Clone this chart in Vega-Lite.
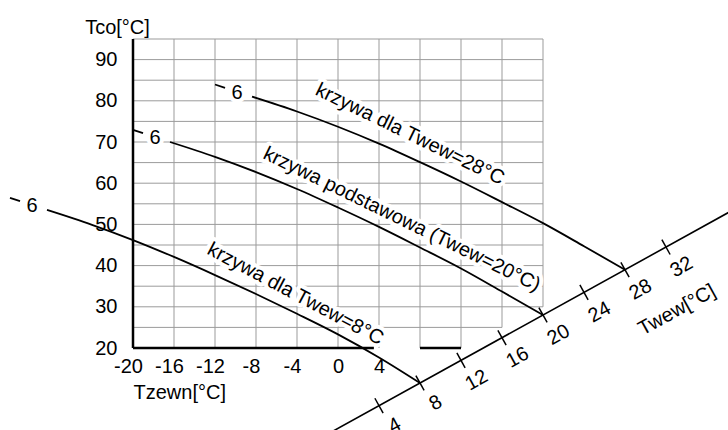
{
  "$schema": "https://vega.github.io/schema/vega-lite/v6.json",
  "width": 410,
  "height": 309,
  "autosize": {"type": "none"},
  "padding": {"left": 133, "top": 39, "right": 185, "bottom": 82},
  "background": "white",
  "config": {"view": {"stroke": null}, "font": "Liberation Sans"},
  "datasets": {
    "grid": [
      {"Tzewn": -16, "Tzewn2": -16, "Tco": 20, "Tco2": 95},
      {"Tzewn": -12, "Tzewn2": -12, "Tco": 20, "Tco2": 95},
      {"Tzewn": -8, "Tzewn2": -8, "Tco": 20, "Tco2": 95},
      {"Tzewn": -4, "Tzewn2": -4, "Tco": 20, "Tco2": 95},
      {"Tzewn": 0, "Tzewn2": 0, "Tco": 20, "Tco2": 95},
      {"Tzewn": 4, "Tzewn2": 4, "Tco": 20, "Tco2": 95},
      {"Tzewn": 8, "Tzewn2": 8, "Tco": 20, "Tco2": 95},
      {"Tzewn": 12, "Tzewn2": 12, "Tco": 20, "Tco2": 95},
      {"Tzewn": 16, "Tzewn2": 16, "Tco": 25, "Tco2": 95},
      {"Tzewn": 20, "Tzewn2": 20, "Tco": 30, "Tco2": 95},
      {"Tzewn": -20, "Tzewn2": 16, "Tco": 25, "Tco2": 25},
      {"Tzewn": -20, "Tzewn2": 20, "Tco": 30, "Tco2": 30},
      {"Tzewn": -20, "Tzewn2": 20, "Tco": 35, "Tco2": 35},
      {"Tzewn": -20, "Tzewn2": 20, "Tco": 40, "Tco2": 40},
      {"Tzewn": -20, "Tzewn2": 20, "Tco": 45, "Tco2": 45},
      {"Tzewn": -20, "Tzewn2": 20, "Tco": 50, "Tco2": 50},
      {"Tzewn": -20, "Tzewn2": 20, "Tco": 55, "Tco2": 55},
      {"Tzewn": -20, "Tzewn2": 20, "Tco": 60, "Tco2": 60},
      {"Tzewn": -20, "Tzewn2": 20, "Tco": 65, "Tco2": 65},
      {"Tzewn": -20, "Tzewn2": 20, "Tco": 70, "Tco2": 70},
      {"Tzewn": -20, "Tzewn2": 20, "Tco": 75, "Tco2": 75},
      {"Tzewn": -20, "Tzewn2": 20, "Tco": 80, "Tco2": 80},
      {"Tzewn": -20, "Tzewn2": 20, "Tco": 85, "Tco2": 85},
      {"Tzewn": -20, "Tzewn2": 20, "Tco": 90, "Tco2": 90},
      {"Tzewn": -20, "Tzewn2": 20, "Tco": 95, "Tco2": 95}
    ],
    "frame": [
      {"Tzewn": -20, "Tzewn2": -20, "Tco": 20, "Tco2": 95},
      {"Tzewn": -20, "Tzewn2": 3.5, "Tco": 20, "Tco2": 20},
      {"Tzewn": 8, "Tzewn2": 12, "Tco": 20, "Tco2": 20}
    ],
    "twewAxis": [
      {"Tzewn": -0.5, "Tzewn2": 38.5, "Tco": -0.19, "Tco2": 53.44}
    ],
    "twewTicks": [
      {"Twew": 4, "Tzewn": 4, "Tco": 6.0},
      {"Twew": 8, "Tzewn": 8, "Tco": 11.5},
      {"Twew": 12, "Tzewn": 12, "Tco": 17.0},
      {"Twew": 16, "Tzewn": 16, "Tco": 22.5},
      {"Twew": 20, "Tzewn": 20, "Tco": 28.0},
      {"Twew": 24, "Tzewn": 24, "Tco": 33.5},
      {"Twew": 28, "Tzewn": 28, "Tco": 39.0},
      {"Twew": 32, "Tzewn": 32, "Tco": 44.5}
    ],
    "curves": [
      {"seg": "c28-dash", "Tzewn": -12.0, "Tco": 83.96},
      {"seg": "c28-dash", "Tzewn": -11.02, "Tco": 83.16},
      {"seg": "c28", "Tzewn": -8.39, "Tco": 81.0},
      {"seg": "c28", "Tzewn": -4, "Tco": 77.4},
      {"seg": "c28", "Tzewn": 0, "Tco": 73.7},
      {"seg": "c28", "Tzewn": 4, "Tco": 69.6},
      {"seg": "c28", "Tzewn": 8, "Tco": 65.1},
      {"seg": "c28", "Tzewn": 12, "Tco": 60.4},
      {"seg": "c28", "Tzewn": 16, "Tco": 55.4},
      {"seg": "c28", "Tzewn": 20, "Tco": 50.3},
      {"seg": "c28", "Tzewn": 24, "Tco": 44.7},
      {"seg": "c28", "Tzewn": 28, "Tco": 39.0},
      {"seg": "c20-dash", "Tzewn": -20.0, "Tco": 72.96},
      {"seg": "c20-dash", "Tzewn": -19.02, "Tco": 72.16},
      {"seg": "c20", "Tzewn": -16.39, "Tco": 70.0},
      {"seg": "c20", "Tzewn": -12, "Tco": 66.4},
      {"seg": "c20", "Tzewn": -8, "Tco": 62.7},
      {"seg": "c20", "Tzewn": -4, "Tco": 58.6},
      {"seg": "c20", "Tzewn": 0, "Tco": 54.1},
      {"seg": "c20", "Tzewn": 4, "Tco": 49.4},
      {"seg": "c20", "Tzewn": 8, "Tco": 44.4},
      {"seg": "c20", "Tzewn": 12, "Tco": 39.3},
      {"seg": "c20", "Tzewn": 16, "Tco": 33.7},
      {"seg": "c20", "Tzewn": 20, "Tco": 28.0},
      {"seg": "c8-dash", "Tzewn": -32.0, "Tco": 56.46},
      {"seg": "c8-dash", "Tzewn": -31.02, "Tco": 55.66},
      {"seg": "c8", "Tzewn": -28.39, "Tco": 53.5},
      {"seg": "c8", "Tzewn": -24, "Tco": 49.9},
      {"seg": "c8", "Tzewn": -20, "Tco": 46.2},
      {"seg": "c8", "Tzewn": -16, "Tco": 42.1},
      {"seg": "c8", "Tzewn": -12, "Tco": 37.7},
      {"seg": "c8", "Tzewn": -8, "Tco": 33.1},
      {"seg": "c8", "Tzewn": -4, "Tco": 28.3},
      {"seg": "c8", "Tzewn": 0, "Tco": 23.3},
      {"seg": "c8", "Tzewn": 4, "Tco": 17.7},
      {"seg": "c8", "Tzewn": 8, "Tco": 11.5}
    ],
    "curveLabels": [
      {"label": "krzywa dla Twew=28°C", "Tzewn": 7.02, "Tco": 71.9},
      {"label": "krzywa podstawowa (Twew=20°C)", "Tzewn": 6.24, "Tco": 51.2}
    ],
    "curveLabel8": [
      {"label": "krzywa dla Twew=8°C", "Tzewn": -4.15, "Tco": 33.1}
    ],
    "curveNumbers": [
      {"label": "6", "Tzewn": -8.39, "Tco": 81.0},
      {"label": "6", "Tzewn": -16.39, "Tco": 70.0},
      {"label": "6", "Tzewn": -28.39, "Tco": 53.5}
    ],
    "twewTitle": [
      {"label": "Twew[°C]", "Tzewn": 33.07, "Tco": 29.2}
    ]
  },
  "encoding": {
    "x": {
      "field": "Tzewn", "type": "quantitative",
      "scale": {"domain": [-20, 20], "nice": false, "zero": false},
      "axis": {
        "values": [-20, -16, -12, -8, -4, 0, 4],
        "labelExpr": "'' + datum.value",
        "labelOffset": {"condition": {"test": "datum.value < 0", "value": -5}, "value": 0},
        "domain": false, "ticks": false, "grid": false,
        "labelFontSize": 20, "labelColor": "black", "labelPadding": 8,
        "labelFlush": false, "labelOverlap": false,
        "title": "Tzewn[°C]", "titleFontSize": 20, "titleFontWeight": "normal",
        "titleColor": "black", "titleAnchor": "start", "titlePadding": 6
      }
    },
    "y": {
      "field": "Tco", "type": "quantitative",
      "scale": {"domain": [20, 95], "nice": false, "zero": false},
      "axis": {
        "values": [20, 30, 40, 50, 60, 70, 80, 90],
        "domain": false, "ticks": false, "grid": false,
        "labelFontSize": 20, "labelColor": "black", "labelPadding": 16,
        "labelFlush": false, "labelOverlap": false,
        "title": "Tco[°C]", "titleAngle": 0, "titleFontSize": 20,
        "titleFontWeight": "normal", "titleColor": "black",
        "titleX": -16, "titleY": -6, "titleAlign": "center", "titleBaseline": "alphabetic"
      }
    }
  },
  "layer": [
    {
      "data": {"name": "grid"},
      "mark": {"type": "rule", "color": "#9b9b9b", "strokeWidth": 1},
      "encoding": {"x2": {"field": "Tzewn2"}, "y2": {"field": "Tco2"}}
    },
    {
      "data": {"name": "curveLabels"},
      "mark": {"type": "text", "angle": 26, "fontSize": 20, "align": "center", "baseline": "middle", "fill": "white", "stroke": "white", "strokeWidth": 8, "strokeJoin": "round"},
      "encoding": {"text": {"field": "label"}}
    },
    {
      "data": {"name": "curveLabel8"},
      "mark": {"type": "text", "angle": 28, "fontSize": 20, "align": "center", "baseline": "middle", "fill": "white", "stroke": "white", "strokeWidth": 8, "strokeJoin": "round"},
      "encoding": {"text": {"field": "label"}}
    },
    {
      "data": {"name": "curveNumbers"},
      "mark": {"type": "text", "fontSize": 20, "align": "center", "baseline": "middle", "dx": -15, "dy": -4, "fill": "white", "stroke": "white", "strokeWidth": 8, "strokeJoin": "round"},
      "encoding": {"text": {"field": "label"}}
    },
    {
      "data": {"name": "frame"},
      "mark": {"type": "rule", "color": "black", "strokeWidth": 2.5},
      "encoding": {"x2": {"field": "Tzewn2"}, "y2": {"field": "Tco2"}}
    },
    {
      "data": {"name": "twewAxis"},
      "mark": {"type": "rule", "color": "black", "strokeWidth": 1.6},
      "encoding": {"x2": {"field": "Tzewn2"}, "y2": {"field": "Tco2"}}
    },
    {
      "data": {"name": "curves"},
      "mark": {"type": "line", "color": "black", "strokeWidth": 1.8, "interpolate": "monotone"},
      "encoding": {"detail": {"field": "seg"}}
    },
    {
      "data": {"name": "twewTicks"},
      "mark": {"type": "point", "shape": "M0,-1L0,1", "angle": -29, "size": 289, "filled": false, "color": "black", "strokeWidth": 1.5, "opacity": 1},
      "encoding": {}
    },
    {
      "data": {"name": "twewTicks"},
      "mark": {"type": "text", "angle": -29, "fontSize": 20, "align": "center", "baseline": "middle", "dx": 4, "dy": 25, "color": "black"},
      "encoding": {"text": {"field": "Twew", "type": "quantitative"}}
    },
    {
      "data": {"name": "curveLabels"},
      "mark": {"type": "text", "angle": 26, "fontSize": 20, "align": "center", "baseline": "middle", "color": "black"},
      "encoding": {"text": {"field": "label"}}
    },
    {
      "data": {"name": "curveLabel8"},
      "mark": {"type": "text", "angle": 28, "fontSize": 20, "align": "center", "baseline": "middle", "color": "black"},
      "encoding": {"text": {"field": "label"}}
    },
    {
      "data": {"name": "curveNumbers"},
      "mark": {"type": "text", "fontSize": 20, "align": "center", "baseline": "middle", "dx": -15, "dy": -4, "color": "black"},
      "encoding": {"text": {"field": "label"}}
    },
    {
      "data": {"name": "twewTitle"},
      "mark": {"type": "text", "angle": -29, "fontSize": 20, "align": "center", "baseline": "middle", "color": "black"},
      "encoding": {"text": {"field": "label"}}
    }
  ]
}
